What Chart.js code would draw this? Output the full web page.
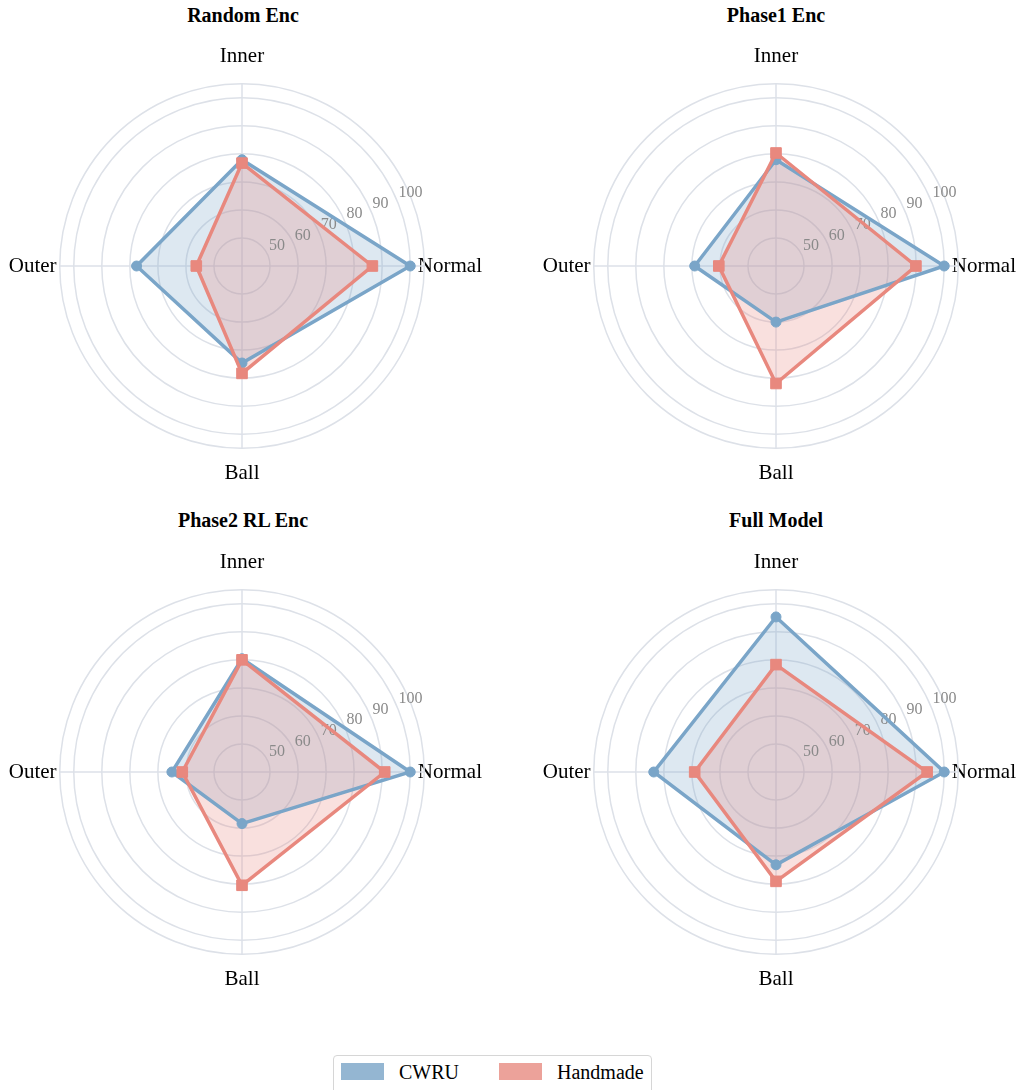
<!DOCTYPE html>
<html>
<head>
<meta charset="utf-8">
<script src="https://cdn.jsdelivr.net/npm/chart.js@4.4.0/dist/chart.umd.min.js"></script>
<style>
  html, body { margin: 0; padding: 0; background: #ffffff; }
  body { width: 1021px; height: 1090px; position: relative; overflow: hidden;
         font-family: 'Liberation Serif', 'Times New Roman', serif; }
  .ptitle { position: absolute; width: 300px; text-align: center; font-weight: bold;
            font-size: 20px; line-height: 20px; color: #000; white-space: nowrap; }
  canvas { position: absolute; }
  .legend { position: absolute; left: 333px; top: 1055px; width: 319px; height: 46px;
            border: 1.5px solid #d6d6d6; border-radius: 4px; box-sizing: border-box; }
  .sw { position: absolute; top: 7px; width: 43px; height: 17px; }
  .lt { position: absolute; top: 4px; font-size: 20px; line-height: 24px; color: #000; white-space: nowrap; }
</style>
</head>
<body>
<div class="ptitle" id="t0" style="left:93px;top:5px;"></div>
<div class="ptitle" id="t1" style="left:626px;top:5px;"></div>
<div class="ptitle" id="t2" style="left:93px;top:510px;"></div>
<div class="ptitle" id="t3" style="left:626px;top:510px;"></div>

<canvas id="c0" width="480" height="480" style="left:6px;top:25px;"></canvas>
<canvas id="c1" width="480" height="480" style="left:540px;top:25px;"></canvas>
<canvas id="c2" width="480" height="480" style="left:6px;top:531px;"></canvas>
<canvas id="c3" width="480" height="480" style="left:540px;top:531px;"></canvas>

<div class="legend">
  <div class="sw" style="left:7px;background:#94b6d2;"></div>
  <div class="lt" id="l0" style="left:65px;"></div>
  <div class="sw" style="left:165px;background:#eca29a;"></div>
  <div class="lt" id="l1" style="left:223px;"></div>
</div>

<script>
// ---- data ----
const categories = ['Inner', 'Normal', 'Ball', 'Outer'];
const panelTitles = ['Random Enc', 'Phase1 Enc', 'Phase2 RL Enc', 'Full Model'];
const seriesNames = ['CWRU', 'Handmade'];
const tickValues = [50, 60, 70, 80, 90, 100];

const cwruRandom   = [77.9, 100.0, 74.6, 77.6];
const handRandom   = [76.7, 86.5, 78.3, 56.3];
const cwruPhase1   = [77.9, 100.0, 60.0, 69.0];
const handPhase1   = [80.3, 89.9, 81.9, 60.4];
const cwruPhase2RL = [80.4, 100.0, 58.4, 65.0];
const handPhase2RL = [80.0, 90.9, 80.4, 61.3];
const cwruFull     = [95.3, 100.0, 73.1, 83.6];
const handFull     = [78.3, 93.9, 79.0, 69.0];

const cwruPanels = [cwruRandom, cwruPhase1, cwruPhase2RL, cwruFull];
const handPanels = [handRandom, handPhase1, handPhase2RL, handFull];

// ---- style ----
const BLUE = 'rgb(122,165,200)';
const BLUE_FILL = 'rgba(122,165,200,0.26)';
const RED = 'rgb(232,136,126)';
const RED_FILL = 'rgba(232,136,126,0.26)';
const GRID = '#dde1e8';
const SERIF = "'Liberation Serif', 'Times New Roman', serif";
const labelPads = [15, -6.4, 12.6, 3.2];
const tickAngleDeg = 22.5;

const angledTicks = {
  id: 'angledTicks',
  beforeDatasetsDraw(chart) {
    const s = chart.scales.r;
    const ctx = chart.ctx;
    const a = tickAngleDeg * Math.PI / 180;
    ctx.save();
    ctx.font = '16px ' + SERIF;
    ctx.fillStyle = '#8a8a8a';
    ctx.textAlign = 'left';
    ctx.textBaseline = 'middle';
    tickValues.forEach(v => {
      const d = s.getDistanceFromCenterForValue(v);
      ctx.fillText(String(v), s.xCenter + d * Math.cos(a) + 1, s.yCenter - d * Math.sin(a) - 9);
    });
    ctx.restore();
  }
};

for (let i = 0; i < 4; i++) {
  document.getElementById('t' + i).textContent = panelTitles[i];
  new Chart(document.getElementById('c' + i), {
    type: 'radar',
    data: {
      labels: categories,
      datasets: [
        {
          label: seriesNames[0], data: cwruPanels[i], order: 1,
          borderColor: BLUE, backgroundColor: BLUE_FILL, borderWidth: 3.5, fill: true,
          pointStyle: 'circle', pointRadius: 5, pointBorderWidth: 1,
          pointBackgroundColor: BLUE, pointBorderColor: BLUE
        },
        {
          label: seriesNames[1], data: handPanels[i], order: 0,
          borderColor: RED, backgroundColor: RED_FILL, borderWidth: 3.5, fill: true,
          pointStyle: 'rect', pointRadius: 7.5, pointBorderWidth: 1,
          pointBackgroundColor: RED, pointBorderColor: RED
        }
      ]
    },
    options: {
      responsive: false,
      animation: false,
      layout: { padding: 0 },
      plugins: {
        legend: { display: false }, tooltip: { enabled: false }, title: { display: false },
        filler: { drawTime: 'beforeDatasetsDraw' }
      },
      elements: { line: { tension: 0 } },
      scales: {
        r: {
          min: 40, max: 105,
          ticks: { display: false, stepSize: 10 },
          grid: { circular: true, color: GRID, lineWidth: 1.5 },
          angleLines: { display: true, color: GRID, lineWidth: 1.5 },
          pointLabels: {
            display: true,
            color: '#000',
            font: { family: SERIF, size: 21 },
            padding: (ctx) => labelPads[ctx.index]
          }
        }
      }
    },
    plugins: [angledTicks]
  });
}
document.getElementById('l0').textContent = seriesNames[0];
document.getElementById('l1').textContent = seriesNames[1];
</script>
</body>
</html>
